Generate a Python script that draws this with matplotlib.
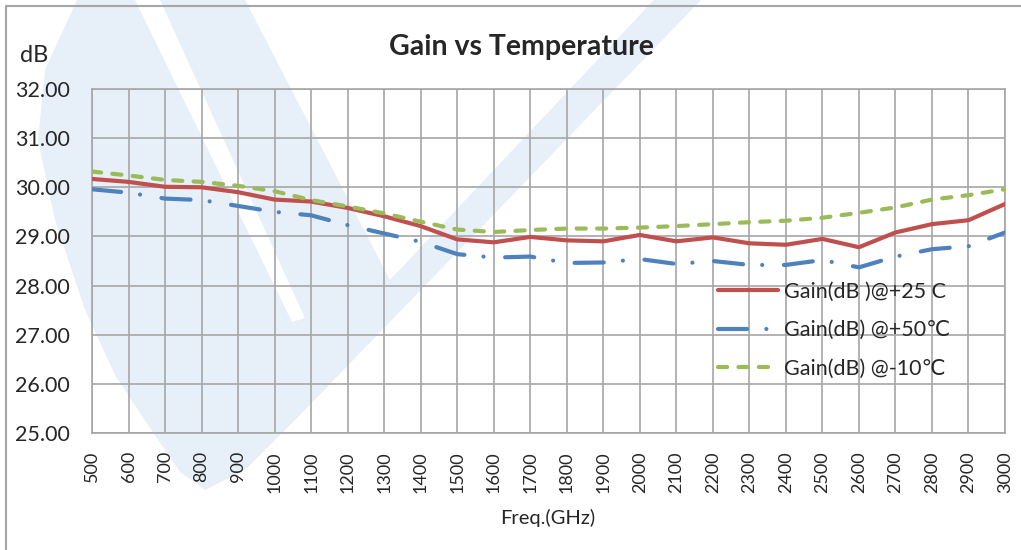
import matplotlib
matplotlib.use('Agg')
import matplotlib.pyplot as plt
from matplotlib.lines import Line2D
from matplotlib.patches import Polygon

plt.rcParams['font.family'] = ['Lato', 'DejaVu Sans']

freqs = list(range(500, 3001, 100))
gain_25 = [30.17, 30.11, 30.01, 30.00, 29.90, 29.75, 29.71, 29.58, 29.41, 29.21,
           28.94, 28.88, 28.99, 28.92, 28.90, 29.03, 28.90, 28.98, 28.86, 28.83,
           28.95, 28.78, 29.08, 29.25, 29.33, 29.66]
gain_50 = [29.96, 29.89, 29.77, 29.74, 29.62, 29.50, 29.43, 29.23, 29.06, 28.89,
           28.64, 28.57, 28.59, 28.46, 28.47, 28.54, 28.44, 28.50, 28.42, 28.42,
           28.52, 28.37, 28.59, 28.74, 28.80, 29.08]
gain_m10 = [30.32, 30.24, 30.15, 30.11, 30.03, 29.92, 29.74, 29.61, 29.47, 29.30,
            29.14, 29.09, 29.13, 29.16, 29.16, 29.18, 29.21, 29.25, 29.29, 29.32,
            29.38, 29.48, 29.59, 29.75, 29.84, 29.96]
labels = ['Gain(dB )@+25 C', 'Gain(dB) @+50\u2103', 'Gain(dB) @-10\u2103']
yticks = [25, 26, 27, 28, 29, 30, 31, 32]

W, H = 1021, 550
fig = plt.figure(figsize=(W / 100, H / 100), dpi=100)
fig.patch.set_facecolor('white')

def fx(px):
    return px / W

def fy(py):
    return 1 - py / H

def fpts(pts):
    return [(fx(x), fy(y)) for x, y in pts]

# faint background watermark (decorative logo)
wm = '#E7EFF8'
v_shape = [(77, 0), (45, 70), (38, 140), (55, 220), (85, 310), (115, 375),
           (150, 428), (180, 472), (205, 490), (245, 470), (300, 415),
           (701, 0), (654, 0), (390, 280), (245, 0)]
stripe = [(135, 0), (160, 0), (305, 318), (292, 322)]
fig.add_artist(Polygon(fpts(v_shape), closed=True, transform=fig.transFigure,
                       facecolor=wm, edgecolor='none', zorder=-6))
fig.add_artist(Polygon(fpts(stripe), closed=True, transform=fig.transFigure,
                       facecolor='white', edgecolor='none', zorder=-5))

# figure border (left and top)
fig.add_artist(Line2D([fx(6), fx(6), fx(W + 5)], [fy(H + 5), fy(6), fy(6)],
                      transform=fig.transFigure, color='#A6A6A6', lw=1.5))

ax = fig.add_axes([fx(92), fy(433), fx(1005) - fx(92), fy(89) - fy(433)])
ax.set_facecolor('none')

grid_c = '#A6A6A6'
ax.set_xlim(500, 3000)
ax.set_ylim(25, 32)
ax.set_xticks(freqs)
ax.set_xticklabels([str(f) for f in freqs], rotation=90, fontsize=13,
                   color='#262626')
ax.set_yticks(yticks)
ax.set_yticklabels([f'{v:.2f}' for v in yticks], fontsize=15.5, color='#262626')
ax.tick_params(length=0, pad=13)
ax.tick_params(axis='y', pad=16)
ax.grid(True, color=grid_c, lw=1.2)
for s in ax.spines.values():
    s.set_color(grid_c)
    s.set_linewidth(1.2)

red, blue, green = '#C0504D', '#4F81BD', '#9BBB59'
ax.plot(freqs, gain_25, color=red, lw=3.0, solid_joinstyle='round',
        solid_capstyle='round', label=labels[0], zorder=3)
ax.plot(freqs, gain_50, color=blue, lw=3.0, linestyle=(0, (7, 4.6, 0.01, 5.2)),
        dash_capstyle='round', dash_joinstyle='round', label=labels[1], zorder=3)
ax.plot(freqs, gain_m10, color=green, lw=3.0, linestyle=(0, (2.2, 2.7)),
        dash_capstyle='round', dash_joinstyle='round', label=labels[2], zorder=3)

leg = ax.legend(loc='upper left', bbox_to_anchor=(fx(718), fy(282)),
                bbox_transform=fig.transFigure, frameon=False, fontsize=15.5,
                handlelength=2.8, handletextpad=0.25, labelspacing=0.85,
                borderpad=0, borderaxespad=0)
for t in leg.get_texts():
    t.set_color('#262626')

fig.text(fx(521), fy(47), 'Gain vs Temperature', ha='center', va='center',
         fontsize=20.5, fontweight='bold', color='#262626')
fig.text(fx(20), fy(56), 'dB', ha='left', va='center', fontsize=17,
         color='#262626')
fig.text(fx(548), fy(518), 'Freq.(GHz)', ha='center', va='center',
         fontsize=14.5, color='#262626')

fig.savefig('out.png', dpi=100)
